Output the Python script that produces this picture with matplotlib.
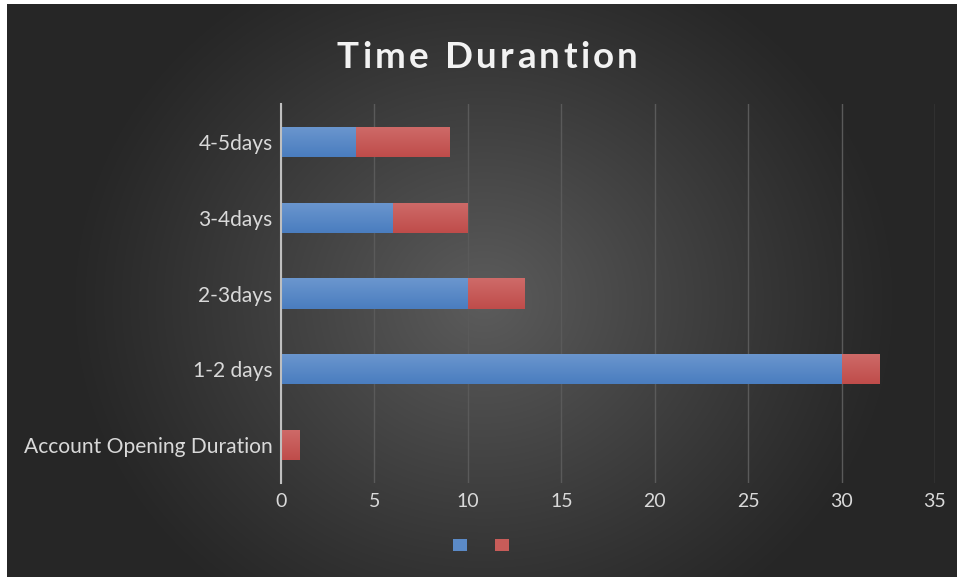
import numpy as np
import matplotlib
matplotlib.use("Agg")
import matplotlib.pyplot as plt
from matplotlib.patches import Rectangle

categories = ["Account Opening Duration", "1-2 days", "2-3days", "3-4days", "4-5days"]
series_a = [0, 30, 10, 6, 4]
series_b = [1, 2, 3, 4, 5]
x_ticks = [0, 5, 10, 15, 20, 25, 30, 35]
title = "Time Durantion"

blue_top, blue_bot = np.array([0.42, 0.59, 0.81]), np.array([0.29, 0.49, 0.75])
red_top, red_bot = np.array([0.81, 0.42, 0.41]), np.array([0.75, 0.30, 0.29])

plt.rcParams["font.family"] = ["Lato", "DejaVu Sans"]

W, H = 957, 579
fig = plt.figure(figsize=(W / 100, H / 100), dpi=100, facecolor="white")

# dark panel with radial glow
bg = fig.add_axes([7 / W, 2 / H, 1 - 7 / W, 1 - 6 / H])
bg.set_axis_off()
yy, xx = np.mgrid[0:H, 0:W]
r = np.sqrt(((xx - 480) / 420.0) ** 2 + ((yy - 300) / 380.0) ** 2)
t = np.clip(1 - r, 0, 1) ** 1.1
dark, light = 0.15, 0.36
img = dark + (light - dark) * t
bg.imshow(np.dstack([img, img, img]), aspect="auto", extent=[0, 1, 0, 1], origin="upper")
bg.set_xlim(0, 1)
bg.set_ylim(0, 1)

ax = fig.add_axes([281 / W, 1 - 483 / H, 654 / W, 379 / H])
ax.patch.set_alpha(0)
y = np.arange(len(categories))
h = 0.4


def shade(bars, top, bot):
    grad = np.linspace(0, 1, 64)[:, None]
    cols = top[None, None, :] * (1 - grad[..., None]) + bot[None, None, :] * grad[..., None]
    for b in bars:
        w = b.get_width()
        if w <= 0:
            continue
        x0, y0 = b.get_x(), b.get_y()
        im = ax.imshow(cols, extent=[x0, x0 + w, y0, y0 + b.get_height()],
                       origin="upper", aspect="auto", zorder=3)
        im.set_clip_path(b)


bars_a = ax.barh(y, series_a, height=h, color=blue_bot, zorder=2)
bars_b = ax.barh(y, series_b, left=series_a, height=h, color=red_bot, zorder=2)
shade(bars_a, blue_top, blue_bot)
shade(bars_b, red_top, red_bot)

ax.set_xlim(0, 35)
ax.set_ylim(-0.5, len(categories) - 0.5)
ax.set_xticks(x_ticks)
ax.set_yticks(y)
ax.set_yticklabels(categories)
ax.tick_params(length=0, colors="#d9d9d9")
ax.tick_params(axis="x", pad=7, labelsize=14)
ax.tick_params(axis="y", pad=6, labelsize=15.1)
ax.grid(axis="x", color="#5a5a5a", linewidth=1.0, zorder=0)
ax.set_axisbelow(True)
for s in ["top", "right", "bottom"]:
    ax.spines[s].set_visible(False)
ax.spines["left"].set_color("#bfbfbf")
ax.spines["left"].set_linewidth(1.5)
ax.spines["left"].set_zorder(4)

# title with letter tracking
renderer = fig.canvas.get_renderer()
tkw = dict(fontsize=26.5, fontweight="bold", color="#f2f2f2", va="center", ha="left")
tracking = 3.3
widths = []
for ch in title:
    tt = fig.text(0, 0, ch if ch != " " else "a", **tkw)
    bb = tt.get_window_extent(renderer)
    widths.append(bb.width * (0.55 if ch == " " else 1.0))
    tt.remove()
total = sum(widths) + tracking * (len(title) - 1)
xpos = 487 - total / 2
for ch, w in zip(title, widths):
    if ch != " ":
        fig.text(xpos / W, 1 - 57 / H, ch, **tkw)
    xpos += w + tracking

handles = [Rectangle((0, 0), 1, 1, facecolor=blue_top * 0.5 + blue_bot * 0.5),
           Rectangle((0, 0), 1, 1, facecolor=red_top * 0.5 + red_bot * 0.5)]
fig.legend(handles, ["", ""], loc="center", bbox_to_anchor=(481 / W, 1 - 545 / H),
           ncol=2, frameon=False, handlelength=1.0, handleheight=1.0,
           columnspacing=2.0, handletextpad=0.0)

fig.savefig("out.png", dpi=100, facecolor=fig.get_facecolor())
